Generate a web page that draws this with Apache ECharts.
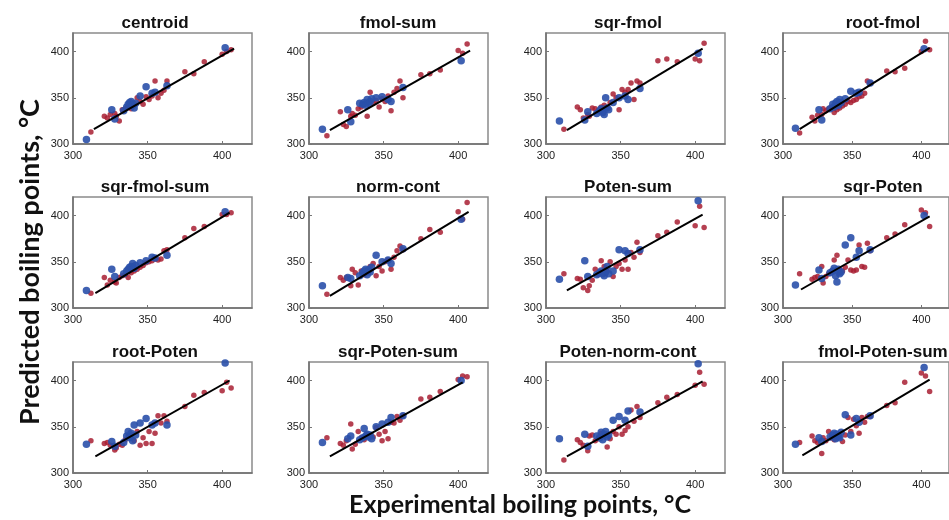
<!DOCTYPE html>
<html>
<head>
<meta charset="utf-8">
<script src="https://cdn.jsdelivr.net/npm/echarts@6/dist/echarts.min.js"></script>
<style>
  html, body { margin: 0; padding: 0; background: #fff; }
  #main { width: 949px; height: 520px; }
</style>
</head>
<body>
<div id="main"></div>
<script>
// panel names (model descriptors)
const panelNames = ['centroid', 'fmol-sum', 'sqr-fmol', 'root-fmol',
  'sqr-fmol-sum', 'norm-cont', 'Poten-sum', 'sqr-Poten',
  'root-Poten', 'sqr-Poten-sum', 'Poten-norm-cont', 'fmol-Poten-sum'];

// experimental boiling points (same compounds in every panel)
const expTrain = [312, 321, 323, 325, 328, 329, 331, 333, 335, 337, 339, 341, 343, 345, 347,
  349, 351, 353, 355, 357, 359, 361, 363, 375, 381, 388, 400, 403, 406];
const expTest = [309, 326, 328, 334, 336, 337, 338, 339, 340, 341, 342, 345, 349, 353, 355, 363, 402];

// predicted values, training set (red)
const predTrain = [
  [313, 330, 328, 332, 333, 330, 325, 337, 338, 340, 338, 344, 350, 346, 343, 351, 348, 352, 368, 350, 355, 358, 368, 378, 376, 389, 397, 400, 402],
  [309, 335, 321, 319, 330, 333, 331, 338, 340, 343, 330, 356, 344, 347, 340, 349, 346, 352, 336, 356, 360, 368, 350, 375, 376, 380, 401, 398, 408],
  [316, 340, 337, 328, 332, 330, 339, 338, 336, 340, 342, 339, 345, 354, 350, 337, 359, 356, 359, 366, 348, 368, 366, 390, 392, 389, 392, 390, 409],
  [312, 329, 325, 331, 332, 338, 336, 338, 340, 334, 337, 339, 341, 343, 346, 345, 347, 348, 351, 352, 355, 368, 366, 379, 378, 382, 400, 411, 402],
  [316, 333, 325, 330, 328, 327, 333, 335, 336, 333, 338, 340, 342, 344, 346, 349, 350, 351, 353, 352, 353, 362, 363, 376, 386, 388, 401, 401, 403],
  [315, 333, 330, 333, 324, 342, 338, 325, 340, 336, 338, 345, 348, 335, 345, 340, 350, 352, 342, 355, 362, 367, 363, 375, 385, 382, 404, 396, 414],
  [337, 332, 331, 322, 319, 324, 330, 342, 336, 351, 345, 340, 350, 334, 345, 348, 342, 352, 342, 360, 355, 371, 360, 378, 382, 393, 389, 410, 387],
  [337, 331, 333, 334, 345, 327, 334, 337, 340, 352, 357, 338, 340, 344, 352, 341, 340, 341, 368, 345, 344, 370, 362, 376, 380, 390, 406, 403, 388],
  [335, 332, 333, 330, 325, 327, 331, 330, 336, 340, 342, 335, 345, 330, 338, 332, 345, 332, 343, 362, 354, 362, 356, 372, 384, 387, 389, 398, 392],
  [338, 332, 330, 335, 353, 326, 331, 345, 338, 336, 342, 340, 339, 349, 342, 335, 345, 337, 355, 354, 361, 357, 362, 380, 382, 388, 401, 405, 404],
  [314, 336, 333, 330, 324, 340, 341, 335, 337, 343, 340, 328, 337, 345, 342, 350, 342, 346, 350, 368, 356, 372, 360, 376, 382, 385, 395, 409, 396],
  [333, 340, 335, 333, 321, 338, 335, 345, 338, 336, 340, 339, 334, 341, 360, 345, 358, 351, 343, 360, 355, 361, 361, 373, 376, 398, 408, 405, 388]
];

// predicted values, test set (blue)
const predTest = [
  [305, 337, 327, 336, 340, 343, 345, 346, 342, 339, 344, 352, 362, 355, 356, 363, 404],
  [316, 337, 324, 344, 343, 345, 342, 348, 344, 346, 349, 350, 351, 348, 346, 361, 390],
  [325, 326, 335, 333, 336, 338, 334, 332, 350, 339, 337, 345, 350, 352, 348, 360, 398],
  [317, 337, 326, 338, 343, 340, 344, 346, 342, 348, 345, 349, 357, 355, 356, 366, 403],
  [319, 342, 334, 337, 340, 342, 344, 345, 348, 343, 346, 349, 351, 355, 354, 357, 404],
  [324, 333, 332, 335, 338, 340, 342, 336, 341, 339, 344, 357, 350, 352, 348, 364, 396],
  [331, 351, 334, 336, 338, 340, 337, 335, 339, 345, 337, 340, 363, 362, 359, 363, 416],
  [325, 341, 332, 338, 340, 343, 335, 328, 342, 337, 339, 368, 376, 355, 362, 363, 400],
  [331, 334, 329, 333, 340, 345, 338, 343, 335, 352, 341, 354, 359, 352, 354, 352, 419],
  [333, 337, 340, 336, 338, 348, 340, 342, 339, 341, 337, 350, 353, 355, 360, 362, 400],
  [337, 342, 329, 340, 338, 344, 336, 342, 345, 339, 341, 357, 361, 357, 367, 366, 418],
  [331, 338, 334, 339, 341, 343, 337, 342, 340, 338, 344, 363, 341, 359, 355, 362, 414]
];

// fitted line end points
const fitX = [[314, 408], [314, 408], [314, 405], [312, 406], [315, 405], [314, 407],
  [314, 405], [313, 406], [315, 405], [314, 403], [314, 405], [314, 406]];
const fitY = [[316, 403], [315, 401], [315, 403], [316, 404], [316, 403], [313, 404],
  [319, 401], [320, 399], [318, 400], [318, 398], [318, 399], [319, 401]];

const tickLabels = [300, 350, 400];

const colLeft = [73, 309, 546, 783];
const titleX = [150, 393, 623, 878];
const rowTop = [33, 197, 362];
const boxW = 179, boxH = 111;

const chart = echarts.init(document.getElementById('main'));

let grids = [], xAxes = [], yAxes = [], series = [], titles = [];

panelNames.forEach((name, i) => {
  let r = Math.floor(i / 4), c = i % 4;
  grids.push({
    left: colLeft[c], top: rowTop[r], width: boxW, height: boxH,
    show: true, borderColor: '#8a8a8a', borderWidth: 1.5, backgroundColor: '#fff'
  });
  let axisCommon = {
    gridIndex: i, type: 'value', min: 300, max: 420, interval: 50,
    splitLine: { show: false },
    axisLine: { show: true, lineStyle: { color: '#6f6f6f', width: 1.5 } },
    axisTick: { show: true, inside: true, length: 3, lineStyle: { color: '#777' } },
    axisLabel: {
      fontSize: 11, color: '#222', fontFamily: 'Liberation Sans',
      showMaxLabel: false,
      formatter: v => tickLabels.indexOf(v) >= 0 ? String(v) : ''
    }
  };
  xAxes.push(Object.assign({}, axisCommon, { axisLabel: Object.assign({}, axisCommon.axisLabel, { margin: 6 }) }));
  yAxes.push(Object.assign({}, axisCommon, { axisLabel: Object.assign({}, axisCommon.axisLabel, { margin: 4 }) }));

  titles.push({
    text: name, left: titleX[c], top: rowTop[r] - 23, textAlign: 'center',
    textStyle: { fontSize: 17, fontWeight: 'bold', color: '#111', fontFamily: 'Liberation Sans' }
  });

  series.push({
    type: 'scatter', xAxisIndex: i, yAxisIndex: i, symbolSize: 5.5,
    itemStyle: { color: '#a81e33', opacity: 0.85 },
    data: expTrain.map((x, k) => [x, predTrain[i][k]])
  });
  series.push({
    type: 'scatter', xAxisIndex: i, yAxisIndex: i, symbolSize: 7.5,
    itemStyle: { color: '#2a50aa', opacity: 0.9 },
    data: expTest.map((x, k) => [x, predTest[i][k]])
  });
  series.push({
    type: 'line', xAxisIndex: i, yAxisIndex: i, symbol: 'none',
    lineStyle: { color: '#000', width: 2 },
    data: [[fitX[i][0], fitY[i][0]], [fitX[i][1], fitY[i][1]]]
  });
});

const option = {
  animation: false,
  backgroundColor: '#fff',
  title: titles,
  grid: grids,
  xAxis: xAxes,
  yAxis: yAxes,
  series: series,
  graphic: [
    {
      type: 'text', x: 30, y: 262, rotation: Math.PI / 2,
      style: {
        text: 'Predicted boiling points, °C', align: 'center', verticalAlign: 'middle',
        font: 'bold 27px Lato', fill: '#111'
      }
    },
    {
      type: 'text', x: 520, y: 505,
      style: {
        text: 'Experimental boiling points, °C', align: 'center', verticalAlign: 'middle',
        font: 'bold 25px Lato', fill: '#111'
      }
    }
  ]
};

chart.setOption(option);
</script>
</body>
</html>
